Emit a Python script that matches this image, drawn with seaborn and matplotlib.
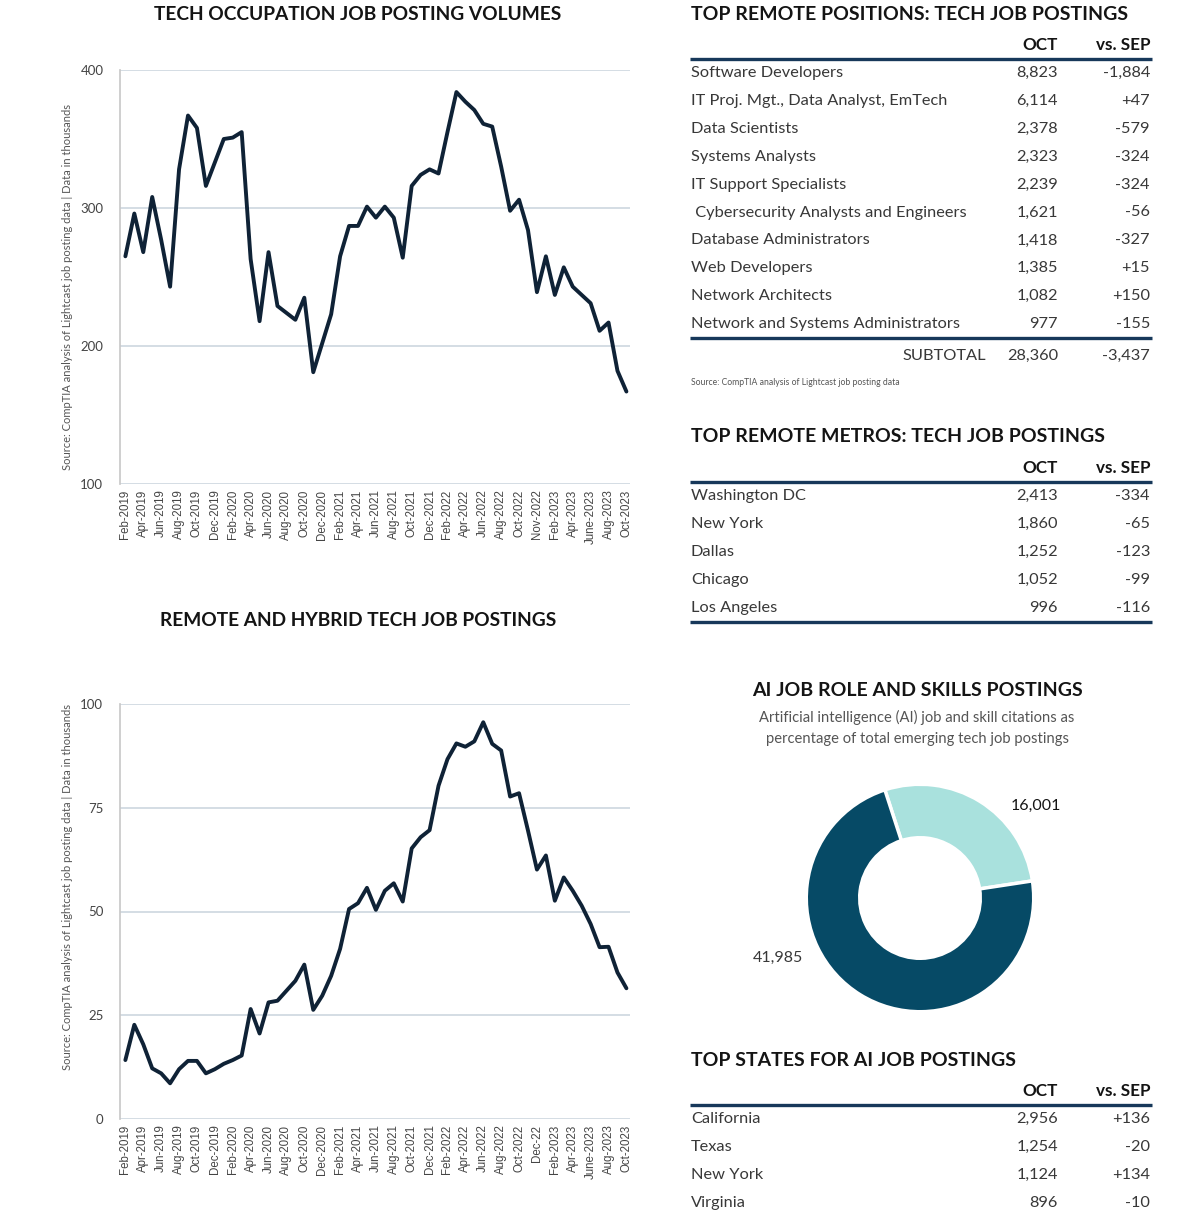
import numpy as np
import matplotlib
matplotlib.use("Agg")
import matplotlib.pyplot as plt
import seaborn as sns

sns.set_theme(style="white")
plt.rcParams['font.family'] = ['Lato', 'DejaVu Sans']

# ---- data ----
tech_volumes = [265, 296, 268, 308, 277, 243, 328, 367, 358, 316, 333, 350, 351, 355,
                263, 218, 268, 229, 224, 219, 235, 181, 202, 223, 265, 287, 287, 301,
                293, 301, 293, 264, 316, 324, 328, 325, 355, 384, 377, 371, 361, 359,
                330, 298, 306, 284, 239, 265, 237, 257, 243, 237, 231, 211, 217, 182, 167]
remote_hybrid = [14.2, 22.7, 18.0, 12.2, 11.0, 8.6, 12.0, 14.0, 14.0, 11.0, 12.0, 13.3,
                 14.2, 15.3, 26.5, 20.6, 28.1, 28.5, 30.9, 33.3, 37.2, 26.3, 29.7, 34.5,
                 41.0, 50.6, 52.0, 55.7, 50.4, 55.0, 56.8, 52.4, 65.2, 67.9, 69.6, 80.3,
                 86.7, 90.5, 89.7, 91.0, 95.6, 90.4, 88.8, 77.7, 78.5, 69.5, 60.1, 63.5,
                 52.6, 58.2, 55.0, 51.4, 47.0, 41.4, 41.5, 35.3, 31.5]

ticks_top = ["Feb-2019", "Apr-2019", "Jun-2019", "Aug-2019", "Oct-2019", "Dec-2019",
             "Feb-2020", "Apr-2020", "Jun-2020", "Aug-2020", "Oct-2020", "Dec-2020",
             "Feb-2021", "Apr-2021", "Jun-2021", "Aug-2021", "Oct-2021", "Dec-2021",
             "Feb-2022", "Apr-2022", "Jun-2022", "Aug-2022", "Oct-2022", "Nov-2022",
             "Feb-2023", "Apr-2023", "June-2023", "Aug-2023", "Oct-2023"]
ticks_bottom = ticks_top[:23] + ["Dec-22"] + ticks_top[24:]

positions = ["Software Developers", "IT Proj. Mgt., Data Analyst, EmTech", "Data Scientists",
             "Systems Analysts", "IT Support Specialists", " Cybersecurity Analysts and Engineers",
             "Database Administrators", "Web Developers", "Network Architects",
             "Network and Systems Administrators"]
positions_oct = ["8,823", "6,114", "2,378", "2,323", "2,239", "1,621", "1,418", "1,385", "1,082", "977"]
positions_chg = ["-1,884", "+47", "-579", "-324", "-324", "-56", "-327", "+15", "+150", "-155"]
positions_total = ("28,360", "-3,437")

metros = ["Washington DC", "New York", "Dallas", "Chicago", "Los Angeles"]
metros_oct = ["2,413", "1,860", "1,252", "1,052", "996"]
metros_chg = ["-334", "-65", "-123", "-99", "-116"]

states = ["California", "Texas", "New York", "Virginia"]
states_oct = ["2,956", "1,254", "1,124", "896"]
states_chg = ["+136", "-20", "+134", "-10"]

ai_values = [16001, 41985]
ai_labels = ["16,001", "41,985"]

# ---- style ----
W, H = 1200, 1220
LINE = "#0f2236"
GRID = "#c9d3dc"
NAVY = "#17385a"
TXT = "#383838"
DARK = "#141414"
ROW_FS = 11.8


def frac(x0, y0, x1, y1):
    return [x0 / W, 1 - y1 / H, (x1 - x0) / W, (y1 - y0) / H]


fig = plt.figure(figsize=(12, 12.2), dpi=100)
fig.patch.set_facecolor("white")


def line_chart(rect, values, ticks, yticks, title, title_y, src_y):
    ax = fig.add_axes(frac(*rect))
    x = np.arange(len(values))
    sns.lineplot(x=x, y=values, ax=ax, color=LINE, linewidth=2.8)
    ax.set_xlim(-0.6, len(values) - 0.6)
    ax.set_ylim(yticks[0], yticks[-1])
    ax.set_yticks(yticks)
    ax.set_xticks(x[::2])
    ax.set_xticklabels(ticks, rotation=90, fontsize=8.3, family=['Liberation Sans'], color="#444444")
    ax.tick_params(axis="y", labelsize=9.5, colors="#444444", pad=12, length=0)
    ax.tick_params(axis="x", pad=4, length=0)
    ax.yaxis.grid(True, color=GRID, linewidth=1.1)
    ax.set_axisbelow(True)
    for s in ["top", "right", "bottom"]:
        ax.spines[s].set_visible(False)
    ax.spines["left"].set_color("#c9c9c9")
    ax.set_xlabel("")
    ax.set_ylabel("")
    fig.text((rect[0] - 52) / W, 1 - src_y / H,
             "Source: CompTIA analysis of Lightcast job posting data | Data in thousands",
             rotation=90, ha="center", va="center", fontsize=8.0, color="#555555")
    fig.text(((rect[0] + rect[2]) / 2 - 17) / W, 1 - title_y / H, title,
             ha="center", va="center", fontsize=13.8, fontweight="bold", color=DARK)
    return ax


line_chart((120, 70, 630, 484), tech_volumes, ticks_top, [100, 200, 300, 400],
           "TECH OCCUPATION JOB POSTING VOLUMES", 15, 287)
line_chart((120, 704, 630, 1119), remote_hybrid, ticks_bottom, [0, 25, 50, 75, 100],
           "REMOTE AND HYBRID TECH JOB POSTINGS", 621, 887)

# overlay for tables (pixel coordinates)
ov = fig.add_axes([0, 0, 1, 1])
ov.set_xlim(0, W)
ov.set_ylim(H, 0)
ov.axis("off")
ov.patch.set_alpha(0)

X0, X1 = 690, 1152
COL_OCT, COL_CHG = 1058, 1150
ROW_GAP = 27.9


def table(title, title_y, names, oct_vals, chg_vals, bottom_line=True):
    ov.text(X0 + 1, title_y, title, ha="left", va="center", fontsize=14,
            fontweight="bold", color=DARK)
    hy = title_y + 31
    ov.text(COL_OCT, hy, "OCT", ha="right", va="center", fontsize=12.3, fontweight="bold", color=DARK)
    ov.text(COL_CHG, hy, "vs. SEP", ha="right", va="center", fontsize=12.3, fontweight="bold", color=DARK)
    ly = hy + 14
    ov.plot([X0, X1], [ly, ly], color=NAVY, linewidth=2.4, solid_capstyle="butt")
    for i, (n, o, c) in enumerate(zip(names, oct_vals, chg_vals)):
        y = ly + 14 + i * ROW_GAP
        ov.text(X0 + 1, y, n, ha="left", va="center", fontsize=ROW_FS, color=TXT)
        ov.text(COL_OCT, y, o, ha="right", va="center", fontsize=ROW_FS, color=TXT)
        ov.text(COL_CHG, y, c, ha="right", va="center", fontsize=ROW_FS, color=TXT)
    end = ly + 14 + (len(names) - 1) * ROW_GAP + 14
    if bottom_line:
        ov.plot([X0, X1], [end, end], color=NAVY, linewidth=2.4, solid_capstyle="butt")
    return end


end = table("TOP REMOTE POSITIONS: TECH JOB POSTINGS", 14, positions, positions_oct, positions_chg)
ov.text(986, end + 18, "SUBTOTAL", ha="right", va="center", fontsize=ROW_FS, color=TXT)
ov.text(COL_OCT, end + 18, positions_total[0], ha="right", va="center", fontsize=ROW_FS, color=TXT)
ov.text(COL_CHG, end + 18, positions_total[1], ha="right", va="center", fontsize=ROW_FS, color=TXT)
ov.text(X0 + 1, end + 44, "Source: CompTIA analysis of Lightcast job posting data",
        ha="left", va="center", fontsize=6.2, color="#555555")

table("TOP REMOTE METROS: TECH JOB POSTINGS", 437, metros, metros_oct, metros_chg)
table("TOP STATES FOR AI JOB POSTINGS", 1060, states, states_oct, states_chg, bottom_line=False)

# donut
ov.text(917, 691, "AI JOB ROLE AND SKILLS POSTINGS", ha="center", va="center",
        fontsize=14, fontweight="bold", color=DARK)
ov.text(917, 717, "Artificial intelligence (AI) job and skill citations as", ha="center",
        va="center", fontsize=10.6, color="#555555")
ov.text(917, 739, "percentage of total emerging tech job postings", ha="center",
        va="center", fontsize=10.6, color="#555555")

R = 116
pax = fig.add_axes(frac(920 - R, 898 - R, 920 + R, 898 + R))
pax.pie(ai_values, colors=["#a9e1dd", "#064a66"], startangle=108, counterclock=False,
        wedgeprops=dict(width=0.47, edgecolor="white", linewidth=2.5))
pax.set_xlim(-1.02, 1.02)
pax.set_ylim(-1.02, 1.02)
pax.set_aspect("equal")
ov.text(1036, 806, ai_labels[0], ha="center", va="center", fontsize=11.5, color=DARK)
ov.text(778, 958, ai_labels[1], ha="center", va="center", fontsize=11.5, color=TXT)

fig.savefig("out.png", dpi=100, facecolor="white")
